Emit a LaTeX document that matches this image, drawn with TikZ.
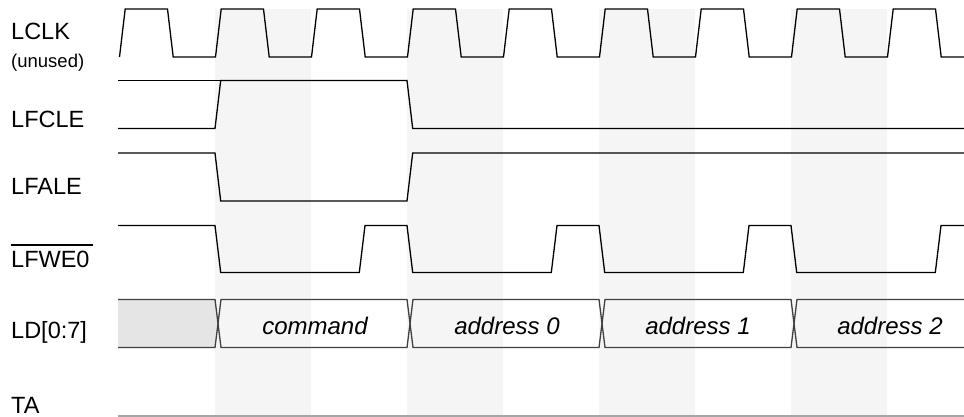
\documentclass[tikz,border=0pt]{standalone}
\usepackage{fontspec}
\setmainfont{Liberation Sans}
\begin{document}
\begin{tikzpicture}
[x=1pt,y=-1pt,
 sig/.style={line width=1.3pt,black},
 bus/.style={line width=1.3pt,black!75},
 lbl/.style={anchor=base west,inner sep=0pt,font=\fontsize{23.5}{27}\selectfont},
 dat/.style={anchor=base,inner sep=0pt,font=\fontsize{24}{28}\selectfont\itshape}]
\def \tstart {118}
\def \per {96}
\def \edge {5.7} % rise and fall time
\useasboundingbox (0,0) rectangle (964,417);
\clip (0,0) rectangle (964,417);
% shaded cycles
\foreach \j in {0,...,3}
{
  \fill[black!4] ({215+2*\per*\j},9) rectangle ++(\per,408);
}
% labels
\node[lbl] (lclk) at (11,39.3) {LCLK};
\node[lbl,font=\fontsize{18.5}{21}\selectfont] (unused) at (11,68) {(unused)};
\node[lbl] (lfcle) at (11,127.3) {LFCLE};
\node[lbl] (lfale) at (11,194) {LFALE};
\node[lbl] (lfwe) at (11,267.7) {LFWE0};
\draw[line width=1.2pt] ([yshift=6pt]lfwe.north west) -- ([yshift=6pt,xshift=3pt]lfwe.north east);
\node[lbl] (ld) at (11,338.3) {LD[0:7]};
\node[lbl] (ta) at (11,413.5) {TA};
% LCLK
\draw[sig] (119.5,57) \foreach \k in {0,...,8}
  { -- ++(\edge,-48) -- ++(48-\edge,0) -- ++(\edge,48) -- ++(48-\edge,0) };
% LFCLE
\draw[sig] (\tstart,80.5) -- (220.7,80.5);
\draw[sig] (\tstart,128.5) -- (215,128.5) -- (220.7,80.5) -- (407,80.5) -- (412.7,128.5) -- (964,128.5);
% LFALE
\draw[sig] (\tstart,153) -- (215,153) -- (220.7,201) -- (407,201) -- (412.7,153) -- (964,153);
% LFWE0
\draw[sig] (\tstart,225.5) \foreach \j in {0,...,3}
  { -- ({215+2*\per*\j},225.5) -- ({215+\edge+2*\per*\j},272.5)
    -- ({359.3+2*\per*\j},272.5) -- ({359.3+\edge+2*\per*\j},225.5) } -- (964,225.5);
% LD[0:7]
\fill[black!10] (\tstart,299.5) -- (215,299.5) -- (218,323.5) -- (215,347.5) -- (\tstart,347.5) -- cycle;
\draw[bus] (\tstart,299.5) -- (215,299.5) -- (218,323.5) -- (215,347.5) -- (\tstart,347.5);
\foreach \j in {0,...,3}
{
  \draw[bus] ({218+2*\per*\j},323.5) -- ({221+2*\per*\j},299.5) -- ({407+2*\per*\j},299.5)
    -- ({410+2*\per*\j},323.5) -- ({407+2*\per*\j},347.5) -- ({221+2*\per*\j},347.5) -- cycle;
}
\node[dat] (cmd) at (315,334.3) {command};
\node[dat] (addr0) at (507,334.3) {address 0};
\node[dat] (addr1) at (698,334.3) {address 1};
\node[dat] (addr2) at (890,334.3) {address 2};
% TA
\draw[line width=1.2pt,black!35] (\tstart,416) -- (964,416);
\end{tikzpicture}
\end{document}
